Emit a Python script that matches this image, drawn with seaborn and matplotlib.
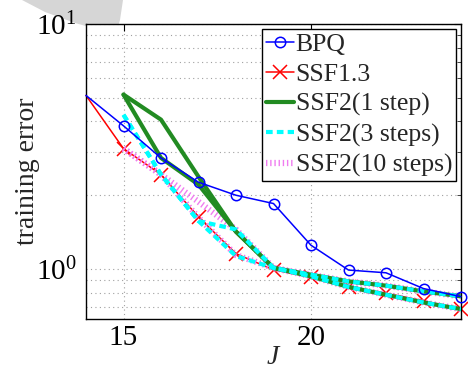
import matplotlib
matplotlib.use("Agg")
import matplotlib.pyplot as plt
import matplotlib.ticker as mticker
from matplotlib.patches import Polygon
import seaborn as sns

# ---------------- data ----------------
J_full = [14, 15, 16, 17, 18, 19, 20, 21, 22, 23, 24]
bpq = [5.11, 3.84, 2.84, 2.26, 2.00, 1.85, 1.25, 0.99, 0.965, 0.832, 0.771]
ssf13 = [5.11, 3.10, 2.43, 1.63, 1.155, 0.992, 0.928, 0.842, 0.795, 0.742, 0.685]

J_ssf2 = [15, 16, 17, 18, 19, 20, 21, 22, 23, 24]
ssf2_1_a = [5.15, 4.07, 2.38, 1.42, 1.01, 0.948, 0.890, 0.855, 0.810, 0.773]
ssf2_1_b = [5.15, 2.84, 2.21, 1.42, 1.01, 0.933, 0.845, 0.785, 0.730, 0.686]
ssf2_3_a = [4.26, 2.43, 1.57, 1.45, 1.01, 0.948, 0.890, 0.855, 0.810, 0.773]
ssf2_3_b = [4.26, 2.43, 1.57, 1.13, 1.01, 0.933, 0.845, 0.785, 0.730, 0.686]
ssf2_10_a = [3.10, 2.43, 1.88, 1.45, 1.01, 0.948, 0.890, 0.855, 0.810, 0.773]
ssf2_10_b = [3.10, 2.43, 1.62, 1.14, 1.01, 0.933, 0.845, 0.785, 0.730, 0.686]

labels = ["BPQ", "SSF1.3", "SSF2(1 step)", "SSF2(3 steps)", "SSF2(10 steps)"]
x_ticks = [15, 20]

# ---------------- style ----------------
sns.set_style("white")
plt.rcParams["font.family"] = ["Liberation Serif", "DejaVu Serif"]
plt.rcParams["mathtext.fontset"] = "custom"
plt.rcParams["mathtext.rm"] = "Liberation Serif"
plt.rcParams["mathtext.it"] = "Liberation Serif:italic"
plt.rcParams["axes.unicode_minus"] = False

fig = plt.figure(figsize=(4.68, 3.72), dpi=100)
ax = fig.add_axes([86 / 468, 1 - 319 / 372, (461 - 86) / 468, (319 - 24) / 372])

# decorative grey artifact at the top-left corner of the reference
fig.patches.append(Polygon(
    [(22 / 468, 1.0), (45 / 468, 1 - 12 / 372), (75 / 468, 1 - 23 / 372),
     (100 / 468, 1 - 30 / 372), (116 / 468, 1 - 33 / 372), (120 / 468, 1 - 20 / 372),
     (123 / 468, 1.0)],
    closed=True, transform=fig.transFigure, facecolor="#d6d6d6",
    edgecolor="none", zorder=-5))

violet = "#f07cf0"
cyan = "#00ffff"
green = "#228b22"

# SSF2 (10 steps) - hatched violet
for vals in (ssf2_10_a, ssf2_10_b):
    sns.lineplot(x=J_ssf2, y=vals, ax=ax, sort=False, estimator=None,
                 color=violet, linewidth=4.5, linestyle=(0, (0.22, 0.45)),
                 dash_capstyle="butt", zorder=3)
# SSF2 (1 step) - green
for vals in (ssf2_1_a, ssf2_1_b):
    sns.lineplot(x=J_ssf2, y=vals, ax=ax, sort=False, estimator=None,
                 color=green, linewidth=3.0, zorder=4)
# SSF2 (3 steps) - cyan dashed
for vals in (ssf2_3_a, ssf2_3_b):
    sns.lineplot(x=J_ssf2, y=vals, ax=ax, sort=False, estimator=None,
                 color=cyan, linewidth=3.0, linestyle=(0, (1.6, 1.0)),
                 dash_capstyle="butt", zorder=5)

# BPQ
sns.lineplot(x=J_full, y=bpq, ax=ax, sort=False, estimator=None,
             color="#0000ff", linewidth=1.1, marker="o", markersize=7.5,
             markerfacecolor="none", markeredgecolor="#0000ff",
             markeredgewidth=1.1, markevery=slice(1, None), clip_on=False,
             zorder=6)
# SSF1.3
sns.lineplot(x=J_full, y=ssf13, ax=ax, sort=False, estimator=None,
             color="#ff0000", linewidth=1.1, marker="x", markersize=10,
             markeredgecolor="#ff0000", markeredgewidth=1.1,
             markevery=slice(1, None), clip_on=False, zorder=2)

ax.set_yscale("log")
ax.set_xlim(14, 24)
ax.set_ylim(0.625, 10)
ax.set_xticks(x_ticks)
ax.set_xticklabels([str(t) for t in x_ticks])
ax.yaxis.set_major_locator(mticker.LogLocator(base=10, numticks=5))
ax.yaxis.set_minor_locator(mticker.LogLocator(base=10, subs=range(2, 10), numticks=20))
ax.yaxis.set_minor_formatter(mticker.NullFormatter())

ax.grid(True, which="major", axis="both", linestyle=(0, (1, 3)),
        color="#a0a0a0", linewidth=0.8)
ax.grid(True, which="minor", axis="y", linestyle=(0, (1, 3)),
        color="#a0a0a0", linewidth=0.8)
ax.set_axisbelow(True)

ax.tick_params(axis="both", which="major", direction="in", length=5, width=0.8,
               top=True, right=True, labelsize=21, colors="black")
ax.tick_params(axis="x", which="major", pad=4)
ax.tick_params(axis="y", which="major", pad=7)
ax.tick_params(axis="both", which="minor", direction="in", length=3, width=0.6,
               top=True, right=True)
ax.tick_params(axis="x", which="minor", length=0)
for s in ax.spines.values():
    s.set_color("black")
    s.set_linewidth(1.0)

ax.set_xlabel("$J$", fontsize=20, labelpad=-4)
ax.set_ylabel("training error", fontsize=20, labelpad=-3)

handles = ax.get_lines()
h_map = {}
h_map["SSF2(10 steps)"] = handles[0]
h_map["SSF2(1 step)"] = handles[2]
h_map["SSF2(3 steps)"] = handles[4]
h_map["BPQ"] = handles[6]
h_map["SSF1.3"] = handles[7]
leg = ax.legend([h_map[l] for l in labels], labels, loc="upper right",
                fontsize=18.5, frameon=True, fancybox=False, framealpha=1,
                edgecolor="black", borderpad=0.15, labelspacing=0.27,
                handlelength=1.1, handletextpad=0.05, borderaxespad=0.2)
leg.get_frame().set_linewidth(1.0)

fig.savefig("out.png", dpi=100)
